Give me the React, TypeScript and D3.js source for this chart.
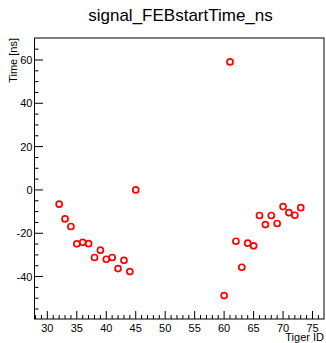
import React from "react";
import * as d3 from "d3";

const tigerIds = [32, 33, 34, 35, 36, 37, 38, 39, 40, 41, 42, 43, 44, 45, 60, 61, 62, 63, 64, 65, 66, 67, 68, 69, 70, 71, 72, 73];
const timesNs = [-6.6, -13.4, -16.9, -24.9, -24.2, -24.8, -31.2, -27.8, -32.0, -31.2, -36.3, -32.5, -37.7, 0.0, -48.8, 59.1, -23.7, -35.7, -24.6, -25.8, -11.8, -16.0, -11.8, -15.5, -7.7, -10.5, -11.7, -8.2];
const xTickLabels = [30, 35, 40, 45, 50, 55, 60, 65, 70, 75];
const yTickLabels = [-40, -20, 0, 20, 40, 60];
const title = "signal_FEBstartTime_ns";
const xTitle = "Tiger ID";
const yTitle = "Time [ns]";

const W = 326;
const H = 343;
const left = 34.5;
const right = 324;
const top = 38;
const bottom = 319;
const font = "'Liberation Sans', Arial, Helvetica, sans-serif";

export default function App() {
  const x = d3.scaleLinear().domain([27.82, 76.95]).range([left, right]);
  const y = d3.scaleLinear().domain([-59.6, 70.15]).range([bottom, top]);
  const xMinor = d3.range(28, 77, 1).filter((v) => v % 5 !== 0);
  const yMinor = d3.range(-55, 70, 5).filter((v) => v % 20 !== 0);

  return (
    <svg width={W} height={H} style={{ position: "absolute", left: 0, top: 0 }} fontFamily={font}>
      <rect x={0} y={0} width={W} height={H} fill="#fff" />
      <text x={180.5} y={21} fontSize={17} textAnchor="middle" fill="#000">{title}</text>
      {/* x ticks */}
      {xMinor.map((v) => (
        <line key={"xm" + v} x1={x(v)} x2={x(v)} y1={bottom} y2={bottom - 4} stroke="#000" strokeWidth={1} />
      ))}
      {xTickLabels.map((v) => (
        <g key={"xM" + v}>
          <line x1={x(v)} x2={x(v)} y1={bottom} y2={bottom - 8} stroke="#000" strokeWidth={1} />
          <text x={x(v)} y={331.5} fontSize={11} textAnchor="middle" fill="#000">{v}</text>
        </g>
      ))}
      {/* y ticks */}
      {yMinor.map((v) => (
        <line key={"ym" + v} x1={left} x2={left + 4} y1={y(v)} y2={y(v)} stroke="#000" strokeWidth={1} />
      ))}
      {yTickLabels.map((v) => (
        <g key={"yM" + v}>
          <line x1={left} x2={left + 8.5} y1={y(v)} y2={y(v)} stroke="#000" strokeWidth={1} />
          <text x={32.5} y={y(v) + 4} fontSize={11} textAnchor="end" fill="#000">{v}</text>
        </g>
      ))}
      {/* frame */}
      <rect x={left} y={top} width={right - left} height={bottom - top} fill="none" stroke="#000" strokeWidth={1} />
      {/* axis titles */}
      <text x={right} y={341} fontSize={11} textAnchor="end" fill="#000">{xTitle}</text>
      <text transform={`translate(17,${top}) rotate(-90)`} fontSize={11} textAnchor="end" fill="#000">{yTitle}</text>
      {/* points */}
      {tigerIds.map((id, i) => (
        <circle key={"p" + i} cx={x(id)} cy={y(timesNs[i])} r={3} fill="none" stroke="#ff0000" strokeWidth={1.7} />
      ))}
    </svg>
  );
}
